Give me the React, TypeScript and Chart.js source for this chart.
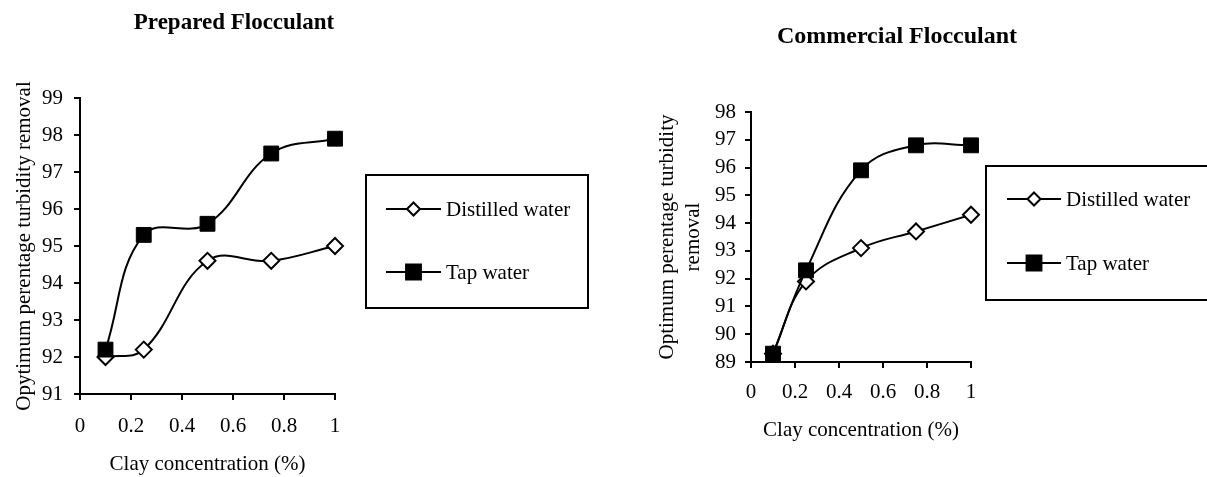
import React, { useEffect, useRef } from 'react';
import { Chart, registerables } from 'chart.js';

Chart.register(...registerables);

// ---- data ----
const concentrations = [0.1, 0.25, 0.5, 0.75, 1];
const preparedDistilled = [92.0, 92.2, 94.6, 94.6, 95.0];
const preparedTap = [92.2, 95.3, 95.6, 97.5, 97.9];
const commercialDistilled = [89.3, 91.9, 93.1, 93.7, 94.3];
const commercialTap = [89.3, 92.3, 95.9, 96.8, 96.8];
const seriesLabels = ['Distilled water', 'Tap water'];
const chartTitles = ['Prepared Flocculant', 'Commercial Flocculant'];
const xAxisTitle = 'Clay concentration (%)';
const preparedYTitle = ['Opytimum perentage turbidity removal'];
const commercialYTitle = ['Optimum perentage turbidity', 'removal'];
const preparedYRange = [91, 99];
const commercialYRange = [89, 98];
const xRange = [0, 1];
const xStep = 0.2;
const yStep = 1;

const FONT = '"Liberation Serif", "Times New Roman", Times, serif';

type Layout = {
  canvasLeft: number;
  width: number;
  height: number;
  pad: { top: number; right: number; left: number; bottom: number };
  yWidth: number;
  xHeight: number;
  yTickPad: number;
  xTickPad: number;
  yTitlePadTop: number;
  xTitlePadBottom: number;
  title: { x: number; y: number; size: number };
  legend: { x1: number; y1: number; x2: number; y2: number; lineX1: number; lineX2: number; textX: number; rowY: number[] };
};

const leftLayout: Layout = {
  canvasLeft: 0,
  width: 600,
  height: 477,
  pad: { top: 98, right: 265, left: 0, bottom: 0 },
  yWidth: 80,
  xHeight: 83,
  yTickPad: 11,
  xTickPad: 14,
  yTitlePadTop: 11,
  xTitlePadBottom: 0,
  title: { x: 234, y: 23, size: 23 },
  legend: { x1: 366, y1: 175, x2: 588, y2: 308, lineX1: 386, lineX2: 441, textX: 446, rowY: [209, 272] },
};

const rightLayout: Layout = {
  canvasLeft: 600,
  width: 607,
  height: 477,
  pad: { top: 112, right: 236, left: 0, bottom: 0 },
  yWidth: 151,
  xHeight: 115,
  yTickPad: 9,
  xTickPad: 12,
  yTitlePadTop: 54,
  xTitlePadBottom: 34,
  title: { x: 297, y: 37, size: 24 },
  legend: { x1: 386, y1: 166, x2: 640, y2: 300, lineX1: 407, lineX2: 461, textX: 466, rowY: [199, 263] },
};

function drawMarker(ctx: CanvasRenderingContext2D, style: string, x: number, y: number, r: number, fill: string) {
  ctx.beginPath();
  if (style === 'rectRot') {
    ctx.moveTo(x, y - r);
    ctx.lineTo(x + r, y);
    ctx.lineTo(x, y + r);
    ctx.lineTo(x - r, y);
    ctx.closePath();
  } else {
    const h = r * Math.SQRT1_2;
    ctx.rect(x - h, y - h, 2 * h, 2 * h);
  }
  ctx.fillStyle = fill;
  ctx.fill();
  ctx.lineWidth = 2;
  ctx.strokeStyle = '#000';
  ctx.stroke();
}

function makeDecor(title: string, L: Layout) {
  return {
    id: 'decor',
    afterDraw(chart: any) {
      const ctx: CanvasRenderingContext2D = chart.ctx;
      ctx.save();
      ctx.fillStyle = '#000';
      ctx.font = `bold ${L.title.size}px ${FONT}`;
      ctx.textAlign = 'center';
      ctx.textBaseline = 'middle';
      ctx.fillText(title, L.title.x, L.title.y);

      const lg = L.legend;
      ctx.lineWidth = 2;
      ctx.strokeStyle = '#000';
      ctx.strokeRect(lg.x1, lg.y1, lg.x2 - lg.x1, lg.y2 - lg.y1);

      chart.data.datasets.forEach((ds: any) => {
        const y = lg.rowY[ds.label === seriesLabels[0] ? 0 : 1];
        ctx.beginPath();
        ctx.moveTo(lg.lineX1, y);
        ctx.lineTo(lg.lineX2, y);
        ctx.lineWidth = 2;
        ctx.strokeStyle = '#000';
        ctx.stroke();
        const r = ds.pointStyle === 'rectRot' ? 6.5 : 10.5;
        drawMarker(ctx, ds.pointStyle, (lg.lineX1 + lg.lineX2) / 2, y, r, ds.pointBackgroundColor);
        ctx.fillStyle = '#000';
        ctx.font = `21px ${FONT}`;
        ctx.textAlign = 'left';
        ctx.textBaseline = 'middle';
        ctx.fillText(ds.label, lg.textX, y + 1);
      });
      ctx.restore();
    },
  };
}

function buildConfig(title: string, distilled: number[], tap: number[], yRange: number[], yTitle: string[], L: Layout): any {
  const pts = (vals: number[]) => concentrations.map((x, i) => ({ x, y: vals[i] }));
  return {
    type: 'line',
    data: {
      datasets: [
        {
          label: seriesLabels[0],
          data: pts(distilled),
          borderColor: '#000',
          borderWidth: 2,
          pointStyle: 'rectRot',
          pointRadius: 8,
          pointBackgroundColor: '#fff',
          pointBorderColor: '#000',
          pointBorderWidth: 2,
          tension: 0.4,
          fill: false,
          clip: false,
          order: 1,
        },
        {
          label: seriesLabels[1],
          data: pts(tap),
          borderColor: '#000',
          borderWidth: 2,
          pointStyle: 'rect',
          pointRadius: 10.5,
          pointBackgroundColor: '#000',
          pointBorderColor: '#000',
          pointBorderWidth: 1,
          tension: 0.4,
          fill: false,
          clip: false,
          order: 0,
        },
      ],
    },
    options: {
      responsive: false,
      animation: false,
      devicePixelRatio: 1,
      events: [],
      layout: { padding: L.pad },
      plugins: {
        legend: { display: false },
        title: { display: false },
        tooltip: { enabled: false },
      },
      scales: {
        x: {
          type: 'linear',
          min: xRange[0],
          max: xRange[1],
          afterFit: (s: any) => {
            s.height = L.xHeight;
          },
          ticks: {
            stepSize: xStep,
            autoSkip: false,
            color: '#000',
            padding: L.xTickPad,
            font: { family: FONT, size: 21 },
            maxRotation: 0,
            callback: (v: any) => String(Math.round(Number(v) * 10) / 10),
          },
          grid: { display: true, drawOnChartArea: false, drawTicks: true, tickLength: 6, color: '#000', lineWidth: 2 },
          border: { display: true, color: '#000', width: 2 },
          title: {
            display: true,
            text: xAxisTitle,
            color: '#000',
            font: { family: FONT, size: 21, lineHeight: 1.2 },
            padding: { top: 0, bottom: L.xTitlePadBottom },
          },
        },
        y: {
          type: 'linear',
          min: yRange[0],
          max: yRange[1],
          afterFit: (s: any) => {
            s.width = L.yWidth;
          },
          ticks: {
            stepSize: yStep,
            autoSkip: false,
            color: '#000',
            padding: L.yTickPad,
            font: { family: FONT, size: 21 },
          },
          grid: { display: true, drawOnChartArea: false, drawTicks: true, tickLength: 6, color: '#000', lineWidth: 2 },
          border: { display: true, color: '#000', width: 2 },
          title: {
            display: true,
            text: yTitle,
            color: '#000',
            font: { family: FONT, size: 21, lineHeight: 1.24 },
            padding: { top: L.yTitlePadTop, bottom: 0 },
          },
        },
      },
    },
    plugins: [makeDecor(title, L)],
  };
}

function ChartCanvas({ config, L }: { config: () => any; L: Layout }) {
  const ref = useRef<HTMLCanvasElement | null>(null);
  useEffect(() => {
    if (!ref.current) return;
    const chart = new Chart(ref.current, config());
    return () => chart.destroy();
  }, []);
  return (
    <canvas
      ref={ref}
      width={L.width}
      height={L.height}
      style={{ position: 'absolute', left: L.canvasLeft, top: 0, width: L.width, height: L.height }}
    />
  );
}

export default function App() {
  return (
    <div style={{ position: 'absolute', left: 0, top: 0, width: 1207, height: 477, background: '#fff', overflow: 'hidden' }}>
      <ChartCanvas
        L={leftLayout}
        config={() => buildConfig(chartTitles[0], preparedDistilled, preparedTap, preparedYRange, preparedYTitle, leftLayout)}
      />
      <ChartCanvas
        L={rightLayout}
        config={() => buildConfig(chartTitles[1], commercialDistilled, commercialTap, commercialYRange, commercialYTitle, rightLayout)}
      />
    </div>
  );
}
